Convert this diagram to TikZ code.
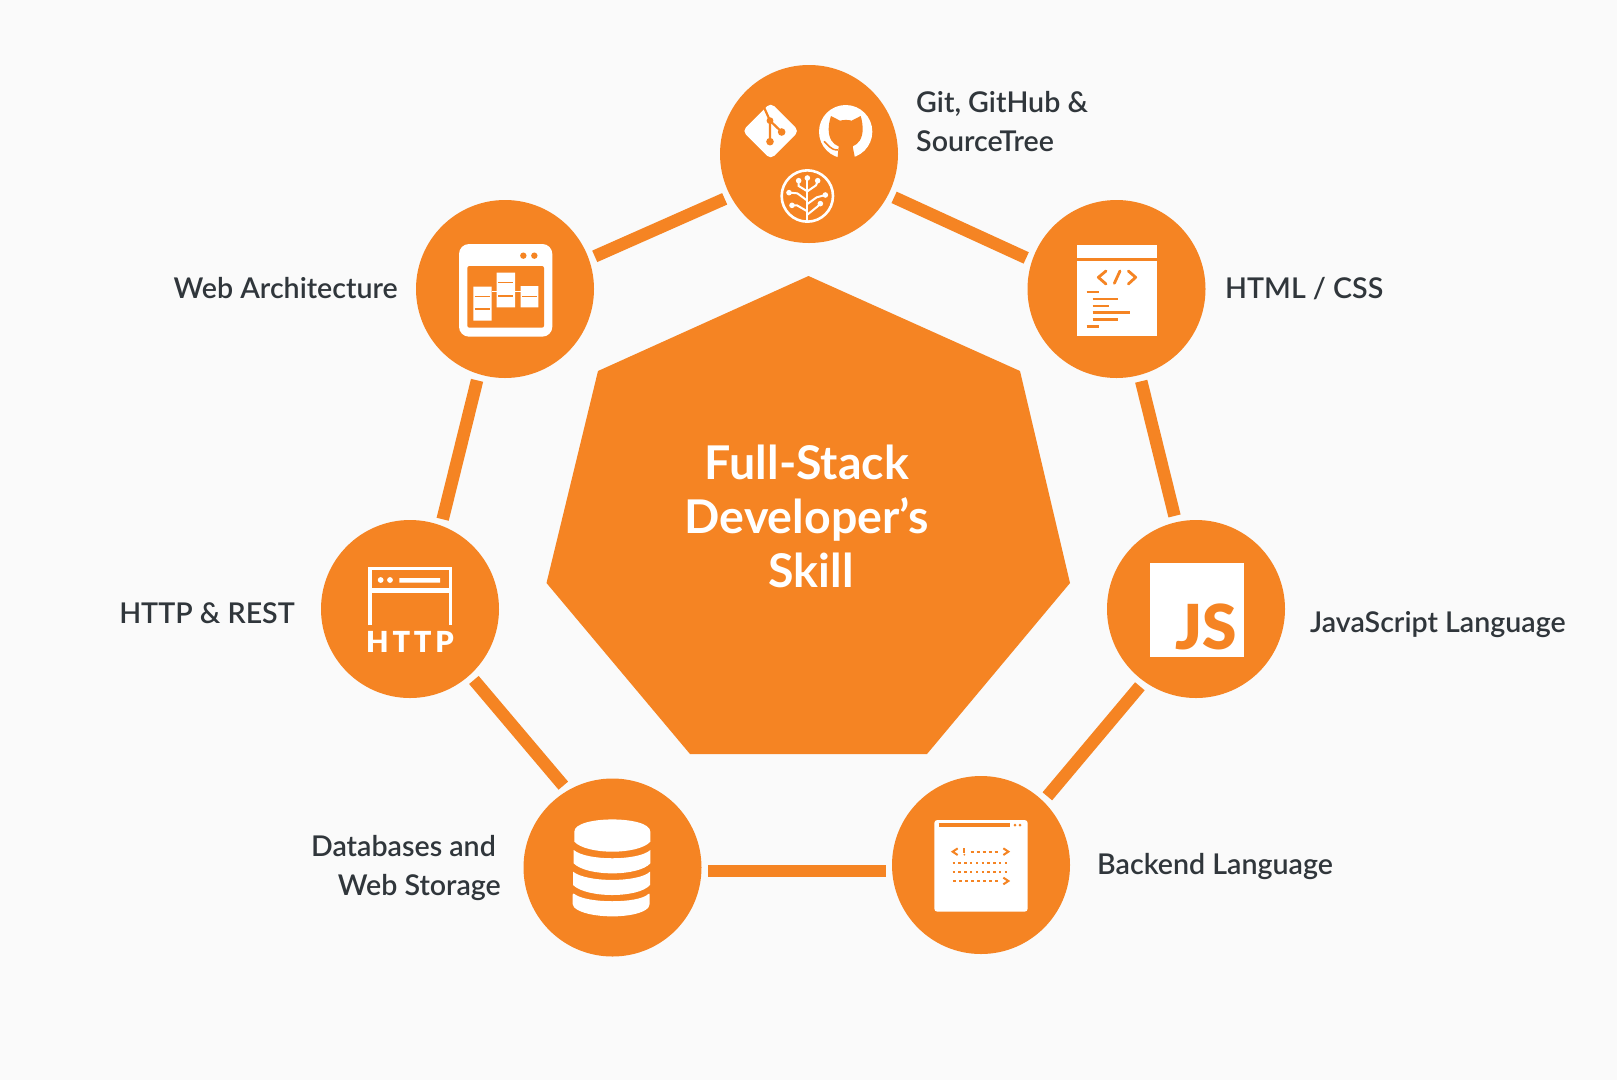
\documentclass[tikz,border=0pt]{standalone}
\usepackage{fontspec}
\setmainfont{Lato}
\newfontfamily\labelfont{Lato Semibold}
\newfontfamily\hubfont{Lato Bold}
\newfontfamily\httpfont[LetterSpace=13]{Lato Black}
\newfontfamily\jsfont{Lato Black}
\definecolor{bgc}{HTML}{FAFAFA}
\definecolor{orangec}{HTML}{F58423}
\definecolor{inkc}{HTML}{30363B}
\tikzset{
  skill/.style={circle,fill=orangec,minimum size=178pt,inner sep=0pt,outer sep=6.5pt},
  link/.style={draw=orangec,line width=12.5pt},
  lab/.style={text=inkc,font=\labelfont\fontsize{28.6}{38.5}\selectfont,inner sep=0pt},
  zoomed/.style={x=0.33333pt,y=-0.33333pt}
}
\begin{document}
\begin{tikzpicture}[x=1pt,y=-1pt]
\useasboundingbox (0,0) rectangle (1617,1080);
\fill[bgc] (0,0) rectangle (1617,1080);

% centre heptagon
\fill[orangec] (808.5,276) -- (1020,371) -- (1070,583) -- (927,754) -- (690,754) -- (546.5,583) -- (598,371) -- cycle;
\node[text=white,font=\hubfont\fontsize{46.5}{54}\selectfont,align=center,inner sep=0pt] (hub) at (807,516)
  {Full-Stack\\Developer’s\\\kern8pt Skill};

% circles
\node[skill] (top)  at (809,154) {};
\node[skill] (web)  at (505,289) {};
\node[skill] (html) at (1116.5,289) {};
\node[skill] (http) at (410,609) {};
\node[skill] (js)   at (1196,609) {};
\node[skill] (db)   at (612.5,867.5) {};
\node[skill] (back) at (981,865) {};
\coordinate (baseline) at (0,871);

% connectors
\draw[link] (top.-27.9) -- (html.161);
\draw[link] (html.-75.2) -- (js.103.5);
\draw[link] (js.-126.6) -- (back.46.3);
\draw[link] (back.west |- baseline) -- (db.east |- baseline);
\draw[link] (db.121) -- (http.-48);
\draw[link] (http.70.3) -- (web.-107.7);
\draw[link] (web.20.3) -- (top.-152.4);

% labels
\node[lab,anchor=base west] (lgit) at (916,112.5) {Git, GitHub \&};
\node[lab,anchor=base west] (lst) at (916,151) {SourceTree};
\node[lab,anchor=base east] (lweb) at (398,298) {Web Architecture};
\node[lab,anchor=base west] (lhtml) at (1225,298) {HTML / CSS};
\node[lab,anchor=base west] (ljs) at (1310,632) {JavaScript Language};
\node[lab,anchor=base west] (lback) at (1097,874) {Backend Language};
\node[lab,anchor=base east] (lhttp) at (295,623.5) {HTTP \& REST};
\node[lab,anchor=base east] (ldb1) at (496,856) {Databases and};
\node[lab,anchor=base east] (ldb2) at (501,895) {Web Storage};

% ---- git / github / sourcetree icons
\begin{scope}[shift={(700,50)},zoomed]
  % git diamond
  \fill[white,rounded corners=5pt] (212,158) -- (297,243) -- (212,328) -- (127,243) -- cycle;
  \draw[orangec,line width=2.2pt] (192,172) -- (210,212) -- (210,275) (210,212) -- (245,246);
  \fill[orangec] (210,212) circle (3.4pt) (245,246) circle (3.8pt) (210,275) circle (3.8pt);
  % github
  \fill[white] (437,245) circle (80);
  \fill[orangec] (393,198) -- (420,212) .. controls (430,209) and (445,209) .. (455,212) -- (482,198)
     .. controls (486,210) and (488,225) .. (488,238) .. controls (488,265) and (475,283) .. (458,289)
     -- (466,330) -- (412,330) -- (416,289) .. controls (398,283) and (386,265) .. (386,238)
     .. controls (386,225) and (389,210) .. cycle;
  \draw[orangec,line width=1.5pt] (372,274) .. controls (385,284) and (390,300) .. (414,300);
  % sourcetree
  \draw[white,line width=2.6pt] (322,438) circle (77);
  \begin{scope}[white,line width=2pt]
    \draw (322,512) -- (322,388);
    \draw (322,484) -- (291,466) -- (280,466);
    \draw (322,452) -- (292,430) -- (270,428);
    \draw (322,424) -- (296,408) -- (296,396);
    \draw (322,494) -- (352,470) -- (358,464);
    \draw (322,462) -- (350,442) -- (372,436);
    \draw (322,424) -- (348,406) -- (352,396);
    \fill (322,384) circle (2.8pt) (276,466) circle (2.8pt) (267,428) circle (2.8pt)
          (296,392) circle (2.8pt) (361,461) circle (2.8pt) (376,435) circle (2.8pt) (353,392) circle (2.8pt);
  \end{scope}
\end{scope}

% ---- web architecture icon
\begin{scope}[shift={(410,190)},zoomed]
  \fill[white,rounded corners=10pt] (147,162) rectangle (427,440);
  \fill[orangec,rounded corners=2pt] (172,228) rectangle (402,413);
  \fill[orangec] (340,197) circle (3.2pt) (373,197) circle (3.2pt);
  \fill[white] (190,290) rectangle (245,392) (260,248) rectangle (315,352) (332,288) rectangle (385,352);
  \draw[white,line width=1.2pt] (245,305) -- (332,305);
  \draw[orangec,line width=1.5pt] (194,320) -- (240,320) (194,357) -- (240,357)
     (264,277) -- (310,277) (264,318) -- (310,318) (336,320) -- (381,320);
\end{scope}

% ---- html icon
\begin{scope}[shift={(1020,190)},zoomed]
  \fill[white] (170,165) rectangle (410,437);
  \draw[orangec,line width=3pt] (170,207) -- (410,207);
  \draw[orangec,line width=2.8pt,line join=round,line cap=round] (258,243) -- (235,262) -- (258,282) (283,280) -- (300,243) (325,243) -- (347,262) -- (325,282);
  \draw[orangec,line width=2.6pt] (200,306) -- (237,306) (218,327) -- (295,327) (218,348) -- (268,348)
     (218,368) -- (330,368) (218,389) -- (295,389) (200,410) -- (237,410);
\end{scope}

% ---- http icon
\begin{scope}[shift={(310,510)},zoomed]
  \draw[white,line width=3.5pt] (180,345) -- (180,175) -- (422,175) -- (422,345);
  \draw[white,line width=5pt] (180,242) -- (422,242);
  \fill[white] (212,210) circle (2.9pt) (240,210) circle (2.9pt) (268,204) rectangle (390,218);
  \node[text=white,font=\httpfont\fontsize{29}{29}\selectfont,inner sep=0pt] (httpword) at (300,395) {HTTP};
\end{scope}

% ---- js icon
\begin{scope}[shift={(1100,510)},zoomed]
  \fill[white] (150,160) rectangle (432,440);
  \node[text=orangec,font=\jsfont\fontsize{62}{62}\selectfont,inner sep=0pt,anchor=base] (jsword) at (319,418) {JS};
\end{scope}

% ---- backend icon
\begin{scope}[shift={(880,770)},zoomed]
  \fill[white,rounded corners=3pt] (163,150) rectangle (443,425);
  \draw[orangec,line width=3.4pt] (176,165) -- (390,165);
  \fill[orangec] (405,165) circle (1.5pt) (420,165) circle (1.5pt);
  \draw[orangec,line width=2pt] (233,235) -- (218,245) -- (233,255) (370,235) -- (385,245) -- (370,255) (370,323) -- (385,333) -- (370,343);
  \draw[orangec,line width=2pt] (253,235) -- (253,248);
  \fill[orangec] (253,254) circle (1pt);
  \draw[orangec,line width=1.8pt,dash pattern=on 3pt off 3pt] (272,245) -- (360,245);
  \draw[orangec,line width=2.2pt,dash pattern=on 2.4pt off 3.4pt] (218,280) -- (392,280) (218,307) -- (392,307);
  \draw[orangec,line width=1.8pt,dash pattern=on 3pt off 3pt] (220,333) -- (362,333);
\end{scope}

% ---- database icon
\begin{scope}[shift={(510,770)},zoomed]
  \begin{scope}[white,line join=round]
    \fill (193,185) .. controls (193,136) and (421,136) .. (421,185) -- (421,215)
       .. controls (385,255) and (230,255) .. (193,215) -- cycle;
    \fill (191,240) .. controls (230,273) and (385,273) .. (421,240) -- (421,280)
       .. controls (385,320) and (230,320) .. (191,280) -- cycle;
    \fill (189,305) .. controls (230,338) and (385,338) .. (420,305) -- (420,345)
       .. controls (385,385) and (230,385) .. (189,345) -- cycle;
    \fill[rounded corners=2pt] (188,368) .. controls (230,401) and (385,401) .. (419,368) -- (419,408)
       .. controls (385,448) and (230,448) .. (188,408) -- cycle;
  \end{scope}
\end{scope}
\end{tikzpicture}
\end{document}
